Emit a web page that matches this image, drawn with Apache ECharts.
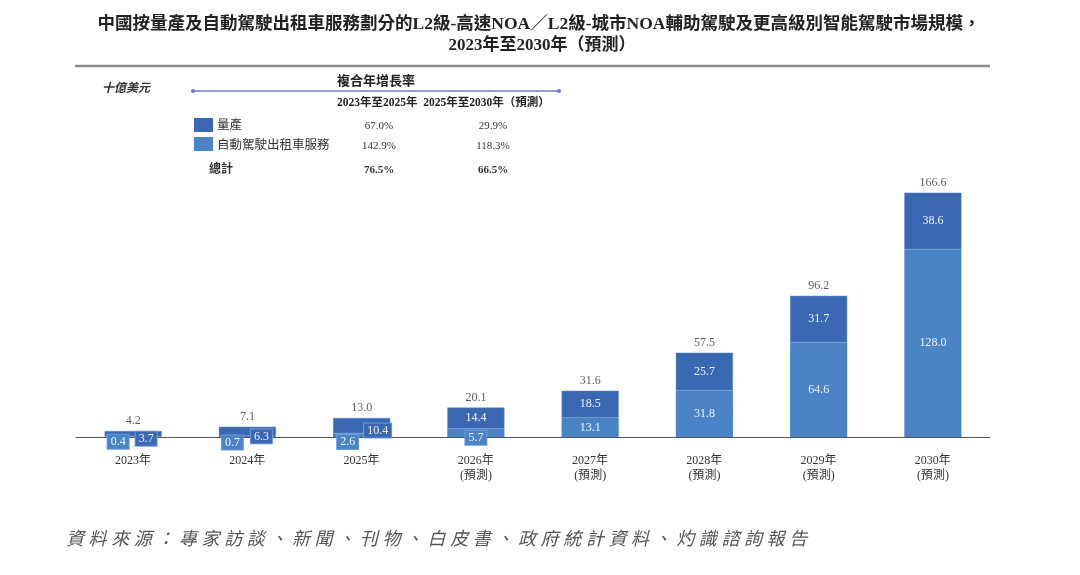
<!DOCTYPE html>
<html>
<head>
<meta charset="utf-8">
<script src="https://cdn.jsdelivr.net/npm/echarts@6/dist/echarts.min.js"></script>
<style>
html, body { margin: 0; padding: 0; background: #fff; }
#main { width: 1080px; height: 575px; }
</style>
</head>
<body>
<div id="main"></div>
<script>
var years = ['2023年', '2024年', '2025年', '2026年\n(預測)', '2027年\n(預測)', '2028年\n(預測)', '2029年\n(預測)', '2030年\n(預測)'];
var robotaxi = [0.4, 0.7, 2.6, 5.7, 13.1, 31.8, 64.6, 128.0];
var massProd = [3.7, 6.3, 10.4, 14.4, 18.5, 25.7, 31.7, 38.6];
var totals = [4.2, 7.1, 13.0, 20.1, 31.6, 57.5, 96.2, 166.6];

var cagrNames = ['量產', '自動駕駛出租車服務', '總計'];
var cagr2325 = ['67.0%', '142.9%', '76.5%'];
var cagr2530 = ['29.9%', '118.3%', '66.5%'];

var titleLines = [
  '中國按量產及自動駕駛出租車服務劃分的L2級-高速NOA／L2級-城市NOA輔助駕駛及更高級別智能駕駛市場規模，',
  '2023年至2030年（預測）'
];
var sourceText = '資料來源：專家訪談、新聞、刊物、白皮書、政府統計資料、灼識諮詢報告';

var dark = '#3a68b2';
var light = '#4a84c6';
var serif = "'Liberation Serif', 'Noto Sans CJK TC', serif";

// small bars: labels drawn as little boxes beside the baseline
var boxLabels = {
  robotaxi: { 0: [-15, 5], 1: [-15, 6], 2: [-14, 7], 3: [0, 5] },
  massProd: { 0: [13, 5], 1: [14, 5], 2: [16, 5] }
};

function buildData(values, offsets, color) {
  return values.map(function (v, i) {
    var item = { value: v };
    if (offsets[i]) {
      item.label = {
        offset: offsets[i],
        backgroundColor: color,
        borderColor: '#6f9ad2',
        borderWidth: 1,
        padding: [1, 3]
      };
    }
    return item;
  });
}

var myChart = echarts.init(document.getElementById('main'));

var graphics = [
  { type: 'text', x: 539, y: 24, style: { text: titleLines[0], font: 'bold 17.5px ' + serif, fill: '#222', textAlign: 'center', textVerticalAlign: 'middle' } },
  { type: 'text', x: 542, y: 46, style: { text: titleLines[1], font: 'bold 17px ' + serif, fill: '#222', textAlign: 'center', textVerticalAlign: 'middle' } },
  { type: 'line', shape: { x1: 75, y1: 66, x2: 990, y2: 66 }, style: { stroke: '#8a8a8a', lineWidth: 2.5 } },
  { type: 'text', x: 102, y: 89, style: { text: '十億美元', font: 'italic bold 12px ' + serif, fill: '#333', textVerticalAlign: 'middle' } },
  { type: 'text', x: 376, y: 82, style: { text: '複合年增長率', font: 'bold 13px ' + serif, fill: '#222', textAlign: 'center', textVerticalAlign: 'middle' } },
  { type: 'line', shape: { x1: 193, y1: 91, x2: 559, y2: 91 }, style: { stroke: '#7078c4', lineWidth: 1.5 } },
  { type: 'circle', shape: { cx: 193, cy: 91, r: 2 }, style: { fill: '#7078c4' } },
  { type: 'circle', shape: { cx: 559, cy: 91, r: 2 }, style: { fill: '#7078c4' } },
  { type: 'text', x: 337, y: 103, style: { text: '2023年至2025年  2025年至2030年（預測）', font: 'bold 11.5px ' + serif, fill: '#222', textVerticalAlign: 'middle' } },
  { type: 'rect', shape: { x: 194, y: 118, width: 19, height: 14 }, style: { fill: dark } },
  { type: 'rect', shape: { x: 194, y: 137, width: 19, height: 14 }, style: { fill: light } }
];
var rowY = [126, 146, 170];
var nameX = [217, 217, 209];
cagrNames.forEach(function (n, i) {
  var w = i === 2 ? 'bold ' : '';
  graphics.push({ type: 'text', x: nameX[i], y: rowY[i], style: { text: n, font: w + (i === 2 ? '12px ' : '12.5px ') + serif, fill: '#333', textVerticalAlign: 'middle' } });
  graphics.push({ type: 'text', x: 379, y: rowY[i], style: { text: cagr2325[i], font: w + '11px ' + serif, fill: '#333', textAlign: 'center', textVerticalAlign: 'middle' } });
  graphics.push({ type: 'text', x: 493, y: rowY[i], style: { text: cagr2530[i], font: w + '11px ' + serif, fill: '#333', textAlign: 'center', textVerticalAlign: 'middle' } });
});
// source line, one glyph per step to keep the wide spacing
sourceText.split('').forEach(function (ch, i) {
  graphics.push({ type: 'text', x: 75 + i * 22.6, y: 540, style: { text: ch, font: 'italic 18px ' + serif, fill: '#555', textAlign: 'center', textVerticalAlign: 'middle' } });
});

option = {
  animation: false,
  grid: { left: 76, right: 90, top: 173, bottom: 138 },
  xAxis: {
    type: 'category',
    data: years,
    axisTick: { show: false },
    axisLine: { lineStyle: { color: '#555', width: 1 } },
    axisLabel: { color: '#333', fontSize: 12, fontFamily: serif, lineHeight: 15, margin: 16 }
  },
  yAxis: {
    type: 'value',
    min: 0,
    max: 180,
    show: false,
    splitLine: { show: false }
  },
  graphic: graphics,
  series: [
    {
      name: '自動駕駛出租車服務',
      type: 'bar',
      stack: 'total',
      barWidth: '50%',
      itemStyle: { color: light },
      label: {
        show: true, position: 'inside', color: '#eef3fa', fontSize: 12, fontFamily: serif,
        formatter: function (p) { return p.value.toFixed(1); }
      },
      data: buildData(robotaxi, boxLabels.robotaxi, light)
    },
    {
      name: '量產',
      type: 'bar',
      stack: 'total',
      barWidth: '50%',
      itemStyle: { color: dark, borderColor: '#5f8fcc', borderWidth: 0.5 },
      label: {
        show: true, position: 'inside', color: '#eef3fa', fontSize: 12, fontFamily: serif,
        formatter: function (p) { return p.value.toFixed(1); }
      },
      data: buildData(massProd, boxLabels.massProd, dark)
    },
    {
      name: '總計',
      type: 'scatter',
      symbolSize: 0,
      silent: true,
      label: {
        show: true, position: 'top', distance: 4, color: '#333', fontSize: 12, fontFamily: serif,
        formatter: function (p) { return p.value.toFixed(1); }
      },
      data: totals
    }
  ]
};

myChart.setOption(option);
</script>
</body>
</html>
